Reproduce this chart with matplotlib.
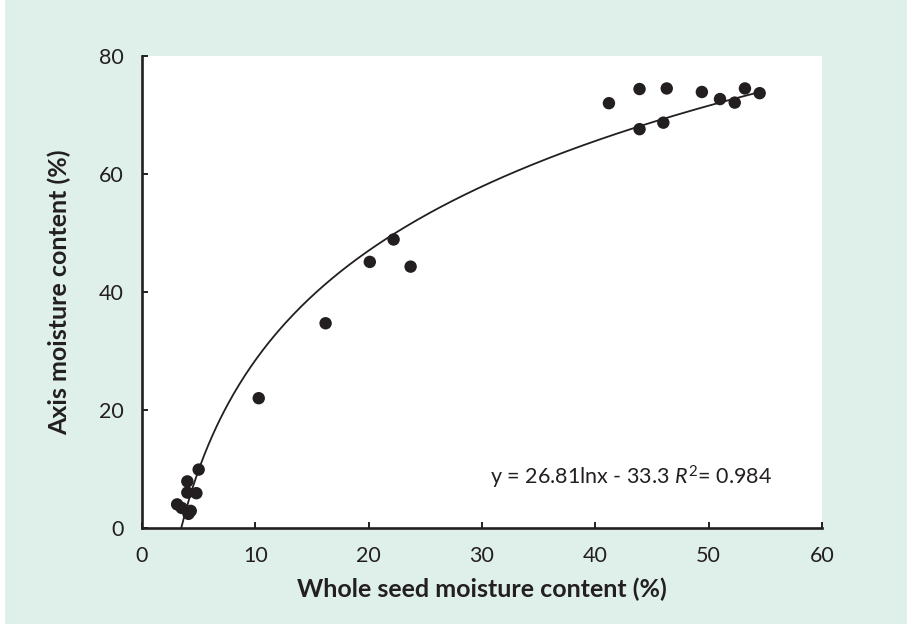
import numpy as np
import matplotlib.pyplot as plt
from matplotlib.patches import Rectangle

# whole seed vs axis moisture content (%)
whole_seed = [3.1, 3.5, 4.1, 4.3, 4.0, 4.8, 4.0, 5.0, 10.3,
              16.2, 20.1, 22.2, 23.7,
              41.2, 43.9, 46.3, 49.4, 51.0, 52.3, 53.2, 54.5, 43.9, 46.0]
axis_mc = [4.0, 3.4, 2.4, 2.9, 6.0, 5.9, 7.9, 9.9, 22.0,
           34.7, 45.1, 48.9, 44.3,
           72.0, 74.4, 74.5, 73.9, 72.7, 72.1, 74.5, 73.7, 67.6, 68.7]

# log fit shown on chart
fit_a = 26.81
fit_b = -33.3
fit_r2 = 0.984

plt.rcParams['font.family'] = ['Lato', 'DejaVu Sans']
plt.rcParams['mathtext.fontset'] = 'custom'
plt.rcParams['mathtext.it'] = 'Lato:italic'
plt.rcParams['mathtext.rm'] = 'Lato'
mint = '#dff0ea'
ink = '#231f20'

fig = plt.figure(figsize=(9.07, 6.24), dpi=100, facecolor=mint)
fig.patches.append(Rectangle((0, 0), 5 / 907, 1, transform=fig.transFigure,
                             facecolor='white', edgecolor='none', zorder=0))
ax = fig.add_axes([142 / 907, 96 / 624, 680 / 907, 472 / 624])
ax.set_facecolor('white')

x_fit = np.linspace(np.exp(-fit_b / fit_a), max(whole_seed), 300)
ax.plot(x_fit, fit_a * np.log(x_fit) + fit_b, color=ink, linewidth=1.3, zorder=2)
ax.scatter(whole_seed, axis_mc, s=80, color=ink, edgecolors='none', zorder=3)

ax.set_xlim(0, 60)
ax.set_ylim(0, 80)
ax.set_xticks(np.arange(0, 61, 10))
ax.set_yticks(np.arange(0, 81, 20))

for side in ['top', 'right']:
    ax.spines[side].set_visible(False)
for side in ['left', 'bottom']:
    ax.spines[side].set_linewidth(1.9)
    ax.spines[side].set_color(ink)

ax.tick_params(direction='in', length=4, width=1.4, color=ink,
               labelsize=15.5, labelcolor=ink, pad=13)

ax.set_xlabel('Whole seed moisture content (%)', fontsize=18, fontweight='bold',
              color=ink, labelpad=8)
ax.set_ylabel('Axis moisture content (%)', fontsize=18, fontweight='bold',
              color=ink, labelpad=20)

ax.text(30.7, 8.5, 'y = %.2flnx - %.1f $R^{2}$= %.3f' % (fit_a, -fit_b, fit_r2),
        fontsize=15.5, color=ink, va='center', ha='left')

plt.savefig('out.png', dpi=100, facecolor=fig.get_facecolor())
plt.close()
